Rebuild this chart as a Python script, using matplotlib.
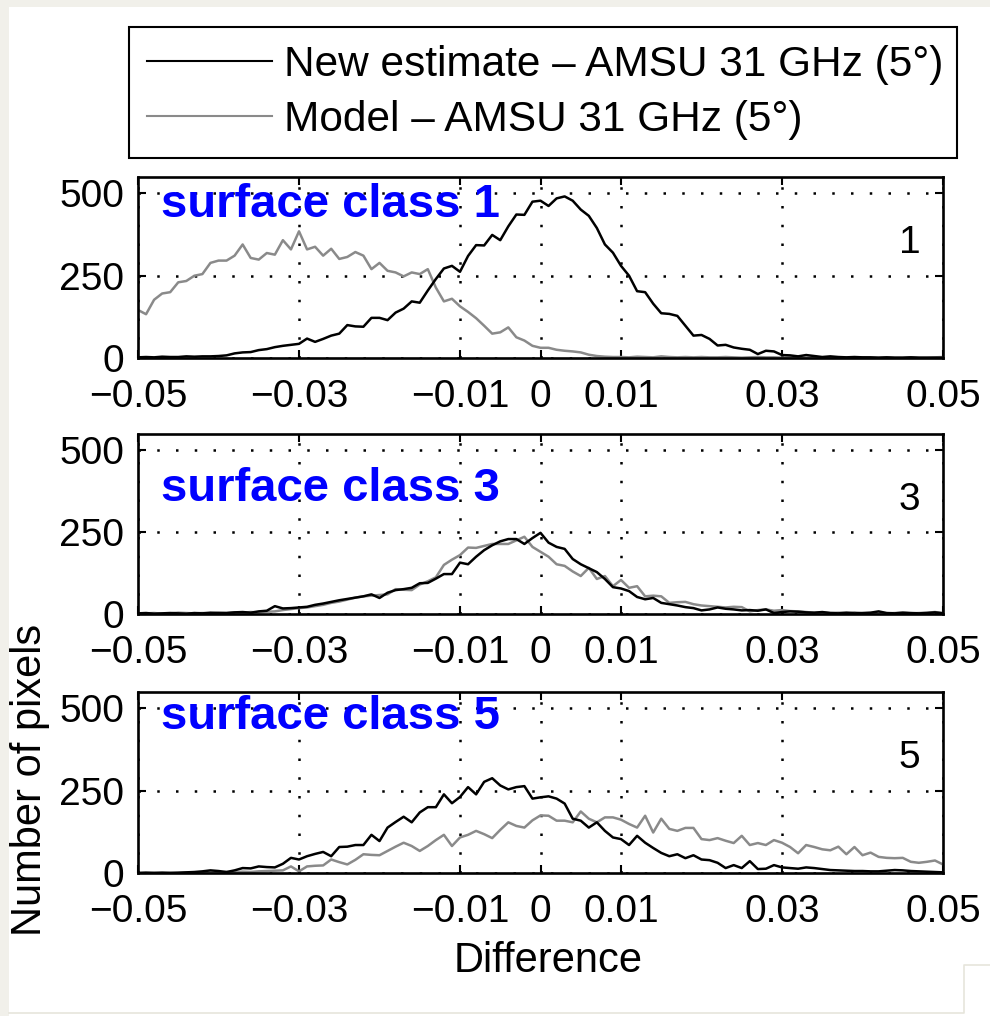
import numpy as np
import matplotlib
matplotlib.use("Agg")
import matplotlib.pyplot as plt
from matplotlib.lines import Line2D
from matplotlib.patches import Rectangle

plt.rcParams['font.family'] = ['Liberation Sans', 'DejaVu Sans']

# histogram bin centres (bin width 0.001)
x_min, x_max, bin_w = -0.05, 0.05, 0.001
diff_bins = np.round(np.arange(x_min, x_max + bin_w / 2, bin_w), 3)

# surface class 1
c1_new = [2, 3, 2, 4, 3, 3, 5, 4, 5, 5,
          6, 8, 14, 17, 18, 24, 27, 33, 37, 40,
          43, 59, 49, 58, 68, 74, 100, 96, 95, 122,
          122, 115, 138, 150, 172, 168, 205, 240, 272, 280,
          262, 310, 343, 342, 374, 358, 400, 436, 435, 475,
          478, 462, 485, 491, 478, 451, 432, 395, 345, 320,
          280, 250, 203, 200, 165, 136, 134, 128, 98, 68,
          70, 58, 38, 40, 32, 28, 25, 12, 22, 20,
          9, 8, 5, 9, 6, 3, 5, 3, 2, 3,
          2, 2, 1, 2, 1, 1, 2, 1, 1, 1,
          1]
c1_model = [146, 133, 177, 196, 200, 230, 234, 250, 255, 289,
            296, 296, 311, 345, 304, 299, 319, 314, 358, 330,
            385, 330, 338, 311, 332, 301, 307, 322, 311, 270,
            289, 265, 260, 248, 260, 255, 270, 214, 172, 180,
            157, 140, 121, 98, 74, 78, 93, 63, 53, 37,
            31, 31, 25, 22, 20, 17, 10, 6, 4, 3,
            3, 2, 4, 3, 2, 5, 3, 2, 3, 2,
            3, 2, 2, 3, 2, 1, 2, 3, 2, 2,
            1, 2, 2, 1, 2, 1, 1, 2, 1, 1,
            2, 1, 1, 2, 1, 1, 2, 1, 1, 2,
            3]

# surface class 3
c3_new = [2, 3, 1, 2, 3, 2, 1, 3, 2, 4,
          3, 3, 5, 6, 4, 8, 10, 24, 17, 18,
          20, 22, 28, 32, 37, 42, 46, 50, 54, 60,
          49, 65, 73, 76, 80, 94, 95, 108, 122, 122,
          157, 152, 175, 195, 210, 222, 229, 229, 214, 232,
          248, 218, 205, 199, 168, 152, 140, 128, 107, 82,
          78, 70, 52, 45, 49, 34, 30, 26, 21, 18,
          11, 14, 20, 16, 14, 11, 12, 10, 14, 3,
          6, 8, 7, 5, 4, 6, 3, 2, 4, 2,
          3, 4, 8, 3, 2, 4, 3, 2, 3, 5,
          2]
c3_model = [1, 2, 3, 1, 2, 4, 3, 2, 3, 2,
            4, 3, 5, 4, 6, 5, 7, 8, 12, 15,
            18, 20, 24, 28, 34, 38, 44, 50, 54, 56,
            58, 60, 76, 74, 73, 90, 100, 112, 150, 166,
            180, 203, 202, 208, 214, 214, 214, 225, 236, 205,
            190, 175, 152, 147, 130, 116, 141, 107, 116, 85,
            104, 80, 85, 54, 56, 54, 34, 36, 37, 30,
            26, 24, 22, 20, 22, 21, 8, 12, 14, 10,
            12, 9, 8, 6, 4, 5, 3, 4, 3, 5,
            2, 3, 4, 2, 3, 4, 2, 3, 4, 6,
            3]

# surface class 5
c5_new = [0, 1, 0, 1, 0, 1, 2, 3, 5, 8,
          6, 3, 8, 15, 14, 20, 18, 17, 28, 46,
          41, 51, 58, 64, 51, 79, 80, 85, 85, 116,
          97, 138, 155, 171, 154, 184, 200, 200, 239, 212,
          231, 261, 239, 277, 288, 266, 254, 261, 264, 226,
          230, 233, 226, 211, 165, 159, 138, 154, 128, 108,
          103, 85, 113, 92, 76, 61, 51, 57, 45, 54,
          41, 39, 31, 15, 24, 15, 36, 12, 13, 24,
          17, 15, 13, 17, 15, 12, 9, 8, 7, 6,
          6, 5, 5, 7, 9, 8, 6, 5, 4, 3,
          2]
c5_model = [0, 0, 1, 0, 1, 0, 1, 2, 1, 2,
            2, 3, 2, 4, 3, 5, 6, 7, 8, 20,
            5, 20, 22, 23, 41, 33, 26, 40, 57, 55,
            54, 67, 80, 92, 82, 67, 82, 100, 116, 82,
            108, 116, 128, 118, 106, 131, 154, 143, 138, 160,
            175, 174, 159, 159, 154, 187, 165, 154, 169, 169,
            162, 149, 138, 174, 123, 165, 134, 128, 137, 137,
            103, 100, 106, 98, 91, 113, 85, 91, 85, 100,
            92, 79, 60, 85, 79, 72, 69, 80, 57, 79,
            54, 62, 49, 46, 45, 46, 34, 31, 34, 38,
            26]

classes = [1, 3, 5]
new_counts = [c1_new, c3_new, c5_new]
model_counts = [c1_model, c3_model, c5_model]

series_labels = ["New estimate \u2013 AMSU 31 GHz (5\u00b0)",
                 "Model \u2013 AMSU 31 GHz (5\u00b0)"]
xticks = [-0.05, -0.03, -0.01, 0, 0.01, 0.03, 0.05]
xtick_labels = ["\u22120.05", "\u22120.03", "\u22120.01", "0", "0.01", "0.03", "0.05"]
yticks = [0, 250, 500]

W, H = 990, 1016
fig = plt.figure(figsize=(W / 100, H / 100), dpi=100)

# axes boxes in pixels (top, bottom)
ax_left, ax_right = 138, 943
ax_rows = [(177, 358), (434, 614), (692, 873)]

grey = '#8a8a8a'
for k, (top, bot) in enumerate(ax_rows):
    ax = fig.add_axes([ax_left / W, 1 - bot / H, (ax_right - ax_left) / W, (bot - top) / H])
    l_new, = ax.plot(diff_bins, new_counts[k], color='black', lw=1.8, zorder=3)
    l_mod, = ax.plot(diff_bins, model_counts[k], color=grey, lw=1.8, zorder=2)
    ax.set_xlim(x_min, x_max)
    ax.set_ylim(0, 550)
    ax.set_xticks(xticks, xtick_labels)
    ax.set_yticks(yticks)
    ax.tick_params(direction='in', top=True, right=True, length=6, width=1.5,
                   labelsize=28)
    ax.tick_params(axis='x', pad=15)
    ax.tick_params(axis='y', pad=10)
    ax.grid(True, color='black', lw=1.8, linestyle=(0, (1, 6.5)))
    for sp in ax.spines.values():
        sp.set_linewidth(1.9)
    ax.text(0.029, [0.78, 0.63, 0.794][k], f"surface class {classes[k]}",
            transform=ax.transAxes, color='#0000ff', fontsize=34,
            fontweight='bold', va='baseline', ha='left')
    ax.text(0.972, 0.635, str(classes[k]), transform=ax.transAxes,
            fontsize=28, ha='right', va='center')
    if k == 0:
        handles = [l_new, l_mod]

leg = fig.legend(handles, series_labels, loc='upper left',
                 bbox_to_anchor=(129 / W, 1 - 157 / H, 828 / W, 130 / H),
                 mode='expand', borderaxespad=0, fontsize=30.5, handlelength=2.95,
                 handletextpad=0.3, borderpad=0.42, labelspacing=0.36,
                 fancybox=False, framealpha=1, edgecolor='black')
leg.get_frame().set_linewidth(1.5)
for h in leg.get_lines():
    h.set_linewidth(1.5)

fig.text(548 / W, 1 - 972 / H, "Difference", fontsize=30, ha='center', va='baseline')
fig.text(30 / W, 1 - 780 / H, "Number of pixels", fontsize=30, rotation=90,
         ha='center', va='center')

# faint page border seen in the original screenshot
edge = '#f1f0ea'
fig.add_artist(Rectangle((0, 0), 9 / W, 1, transform=fig.transFigure, color=edge, lw=0))
fig.add_artist(Rectangle((0, 1 - 7 / H), 1, 7 / H, transform=fig.transFigure, color=edge, lw=0))
fig.add_artist(Line2D([9 / W, 964 / W, 964 / W, 1], [1 - 1013 / H, 1 - 1013 / H, 1 - 965 / H, 1 - 965 / H],
                      transform=fig.transFigure, color='#e6e5dc', lw=1.2))

fig.savefig("out.png", dpi=100)
